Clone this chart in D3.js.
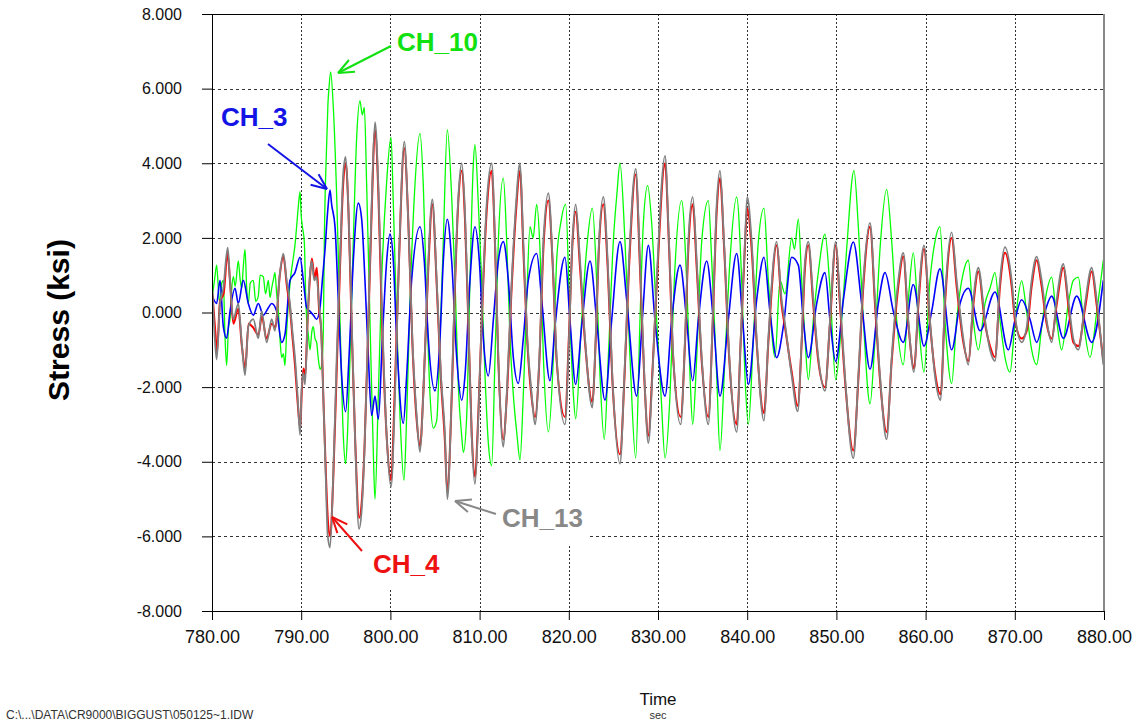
<!DOCTYPE html>
<html>
<head>
<meta charset="utf-8">
<script src="https://cdn.jsdelivr.net/npm/d3@7"></script>
<style>
  html, body { margin: 0; padding: 0; background: #ffffff; }
  svg { display: block; font-family: Arial, "Liberation Sans", sans-serif; }
</style>
</head>
<body>
<svg id="chart" width="1136" height="724"></svg>
<script>
// ---------------- data (time in sec, stress in ksi) ----------------
const timeTicks = [780, 790, 800, 810, 820, 830, 840, 850, 860, 870, 880];
const stressTicks = [-8, -6, -4, -2, 0, 2, 4, 6, 8];
const channelNames = ["CH_10", "CH_3", "CH_4", "CH_13"];

const ch10 = [
[780.04,0.44],[780.30,0.9],[780.52,1.27],[780.75,0.5],[780.90,0.24],[781.1,0.8],[781.27,0.86],[781.45,-0.6],[781.64,-1.42],[781.85,-0.4],
[782.02,-0.18],[782.2,0.6],[782.39,0.96],[782.6,0.7],[782.95,1.38],[783.15,0.9],[783.33,0.65],[783.50,1.2],[783.70,1.69],[783.9,0.6],
[784.07,0.24],[784.3,0.8],[784.63,0.86],[784.9,0.3],[785.19,0.44],[785.4,1.0],[785.75,0.96],[786.0,0.5],[786.32,0.86],[786.5,0.4],
[786.69,0.65],[786.9,0.9],[787.06,1.07],[787.25,0.5],[787.44,0.03],[787.62,-0.7],[787.81,-1.21],[788.00,-1.1],[788.18,-1.42],[788.37,-0.5],
[788.56,0.24],[788.8,0.9],[789.12,1.48],[789.30,1.8],[789.49,2.31],[789.7,2.9],[789.87,3.24],[790.0,2.6],[790.13,2.31],[790.35,1.89],
[790.5,0.5],[790.61,-0.18],[790.8,-0.6],[790.99,-1.0],[791.2,-0.5],[791.36,-0.38],[791.55,-0.7],[791.73,-0.8],[791.9,-1.2],[792.11,-1.52],
[792.30,-1.42],[792.48,-0.5],[792.59,1.89],[792.85,4.48],[793.0,5.6],[793.12,6.03],[793.30,6.45],[793.60,5.5],[793.98,3.1],[794.35,-0.2],
[794.72,-3.3],[794.98,-4.05],[795.2,-3.2],[795.47,-1.2],[795.84,1.9],[796.22,4.7],[796.59,5.67],[796.85,5.3],[797.08,5.5],[797.34,3.4],
[797.71,-0.2],[798.09,-3.8],[798.27,-5.0],[798.65,-2.2],[799.02,0.86],[799.58,3.5],[800.07,4.7],[800.33,2.9],[800.70,-0.2],[801.08,-2.8],
[801.52,-4.5],[801.82,-2.8],[802.20,0.3],[802.68,3.1],[803.32,4.8],[803.69,3.4],[804.07,0.3],[804.44,-2.2],[804.81,-3.1],[805.19,-2.9],
[805.56,-0.7],[805.93,1.9],[806.38,4.9],[806.87,3.1],[807.24,0.9],[807.62,-2.0],[807.99,-3.3],[808.18,-3.75],[808.55,-2.8],[808.92,0.86],
[809.3,4.0],[809.48,4.5],[809.86,2.9],[810.23,0.86],[810.61,-1.7],[810.98,-3.5],[811.35,-4.1],[811.73,-1.2],[812.10,1.9],[812.66,3.6],
[813.04,1.9],[813.41,-0.7],[813.78,-2.2],[814.2,-3.3],[814.53,-3.95],[814.90,-2.2],[815.28,0.3],[815.65,2.3],[816.0,2.0],[816.40,2.9],
[816.77,1.7],[817.15,-1.2],[817.71,-3.2],[818.27,-1.2],[818.64,1.4],[819.1,2.4],[819.65,2.9],[820.13,-0.2],[820.51,-2.2],[820.77,-2.85],
[821.44,-0.2],[822.0,1.7],[822.64,2.8],[823.12,0.86],[823.50,-1.7],[823.98,-3.4],[824.43,-1.2],[824.99,1.9],[825.4,3.2],[825.74,4.0],
[826.30,1.9],[826.86,-1.2],[827.50,-3.9],[827.98,-0.2],[828.36,2.4],[828.84,3.4],[829.29,2.4],[829.85,-0.2],[830.34,-2.2],[830.79,-3.9],
[831.35,-2.2],[831.83,0.86],[832.65,3.0],[833.21,0.86],[833.59,-1.7],[833.89,-3.0],[834.34,-1.2],[834.9,1.9],[835.64,3.0],[836.02,1.4],
[836.58,-1.7],[836.95,-3.7],[837.51,-1.2],[838.07,1.4],[838.82,3.1],[839.38,0.86],[839.75,-1.7],[840.13,-3.0],[840.69,-0.7],[841.25,1.9],
[841.88,2.8],[842.37,0.86],[843.12,-1.2],[843.68,0.86],[844.24,0.5],[844.99,2.0],[845.3,1.7],[845.73,2.5],[846.11,0.86],[846.48,-0.7],
[846.85,-1.8],[847.41,-0.2],[847.97,1.07],[848.72,2.1],[849.28,0.65],[849.92,-1.8],[850.59,-0.2],[851.15,1.7],[851.97,3.8],[852.46,2.3],
[853.02,-0.2],[853.77,-2.45],[854.33,-0.7],[854.89,1.7],[855.63,3.3],[856.2,1.9],[856.76,-0.2],[857.5,-1.4],[858.06,0.34],[858.62,1.6],
[859.19,-0.2],[859.82,-1.6],[860.49,0.86],[861.05,1.9],[861.61,2.3],[862.17,-0.2],[862.92,-1.9],[863.48,-0.2],[864.23,1.07],[864.79,1.4],
[865.35,-0.2],[865.91,-1.0],[866.66,0.24],[867.22,0.65],[867.78,1.07],[868.34,-0.2],[868.9,-1.2],[869.46,-1.6],[870.02,-0.3],[870.77,0.85],
[871.33,0.0],[871.89,-1.0],[872.45,-1.4],[873.01,-0.4],[873.57,0.55],[874.13,0.95],[874.69,-0.2],[875.25,-1.0],[876.0,0.24],[876.56,0.86],
[877.12,0.95],[877.68,-0.2],[878.43,-1.2],[879.18,0.0],[879.92,1.4]
];

const ch3 = [
[780.04,0.44],[780.52,0.24],[780.90,0.86],[781.27,-0.38],[781.64,-0.69],[782.02,0.03],[782.58,0.65],[782.95,0.24],[783.51,0.86],[784.07,0.24],
[784.63,-0.07],[785.19,0.24],[785.75,-0.07],[786.32,0.13],[786.69,0.24],[787.25,0.03],[787.81,-0.80],[788.18,-0.59],[788.74,0.86],[789.30,1.07],
[789.87,1.48],[790.24,0.86],[790.61,0.13],[790.99,0.03],[791.36,-0.07],[791.73,-0.18],[792.11,0.13],[792.37,0.86],[792.67,1.69],[792.97,2.72],
[793.23,3.28],[793.41,2.9],[793.79,2.3],[794.16,0.34],[794.54,-1.7],[794.98,-2.66],[795.36,-1.2],[795.84,1.38],[796.40,2.93],[796.78,2.5],
[797.15,0.86],[797.53,-1.2],[797.9,-2.76],[798.27,-2.24],[798.65,-2.86],[799.1,-0.7],[799.58,1.38],[799.95,2.1],[800.33,1.38],[800.70,-0.7],
[801.45,-2.97],[801.82,-1.7],[802.38,0.86],[803.32,2.3],[803.8,1.38],[804.25,-0.7],[805.0,-2.1],[805.56,-0.7],[805.93,1.38],[806.38,2.5],
[806.87,1.38],[807.43,-1.2],[807.99,-2.35],[808.36,-1.7],[808.92,0.86],[809.48,2.3],[809.97,1.38],[810.42,-0.7],[810.98,-1.7],[811.54,-0.2],
[812.10,1.38],[812.66,1.9],[813.22,0.86],[813.78,-1.2],[814.34,-1.9],[814.9,-0.7],[815.46,0.86],[816.40,1.58],[816.96,0.34],[817.89,-1.83],
[818.45,-0.38],[819.57,1.48],[820.13,-0.2],[820.77,-1.93],[821.44,-0.38],[822.38,1.38],[823.12,-0.2],[824.06,-2.35],[824.81,-0.2],[825.74,1.9],
[826.49,0.34],[827.61,-2.24],[828.24,-0.2],[828.92,1.8],[829.66,-0.2],[830.79,-2.24],[831.53,-0.2],[832.47,1.27],[833.21,-0.2],[833.89,-1.83],
[834.52,-0.2],[835.46,1.38],[836.2,-0.2],[836.95,-2.24],[837.88,-0.2],[838.82,1.58],[839.49,-0.2],[840.13,-1.93],[841.06,0.34],[841.88,1.48],
[842.55,0.03],[843.3,-1.21],[844.05,-0.38],[844.99,1.48],[845.73,1.27],[846.29,-0.2],[846.85,-1.21],[847.79,0.24],[848.72,1.07],[849.28,-0.2],
[849.92,-1.31],[850.78,0.34],[851.90,1.89],[852.83,0.24],[853.77,-1.52],[854.7,0.24],[855.45,1.07],[856.38,0.03],[857.5,-0.8],[858.62,0.75],
[859.82,-0.9],[860.68,0.03],[861.61,1.17],[862.92,-1.0],[863.86,0.24],[864.79,0.65],[866.1,-0.49],[867.78,0.55],[869.27,-1.0],[870.02,-0.2],
[870.77,0.34],[871.7,-0.18],[872.45,-0.8],[873.39,0.03],[874.13,0.44],[875.44,-0.69],[876.94,0.44],[878.62,-0.8],[879.92,0.86]
];

const ch4 = [
[780.04,0.5],[780.4,-0.6],[780.55,-1.1],[780.9,0.3],[781.3,0.5],[781.75,1.6],[782.0,0.9],[782.4,-0.3],[782.95,0.1],[783.35,-0.9],
[783.72,-1.5],[784.1,-0.3],[784.6,-0.4],[785.2,-0.6],[785.6,-0.1],[786.1,-0.7],[786.7,-0.3],[787.1,-0.4],[787.6,1.0],[788.0,1.5],
[788.4,0.7],[788.75,0.1],[789.0,-0.6],[789.3,-1.4],[789.6,-2.4],[789.9,-3.1],[790.05,-2.2],[790.25,-1.5],[790.45,-1.7],[790.7,-0.3],
[791.0,1.0],[791.2,1.45],[791.5,0.9],[791.75,1.2],[792.0,0.1],[792.25,-0.5],[792.5,-2.4],[792.75,-4.2],[793.0,-5.6],[793.25,-6.0],
[793.6,-4.4],[794.0,-1.4],[794.35,1.2],[794.72,3.5],[795.0,4.0],[795.3,2.7],[795.66,-0.4],[796.05,-3.4],[796.5,-5.5],[796.78,-5.1],
[797.1,-3.6],[797.55,-0.1],[797.9,2.7],[798.27,4.9],[798.65,3.2],[799.0,0.2],[799.6,-3.4],[800.07,-4.5],[800.5,-2.0],[800.95,1.3],
[801.56,4.4],[802.0,2.5],[802.46,-0.8],[802.95,-2.9],[803.32,-3.6],[803.7,-2.1],[804.25,1.2],[804.7,2.9],[805.2,0.7],[805.67,-1.8],
[806.1,-3.4],[806.38,-4.8],[806.87,-2.3],[807.24,0.7],[807.62,3.0],[807.99,3.8],[808.36,2.5],[808.74,-0.3],[809.11,-3.2],[809.48,-4.4],
[809.86,-2.7],[810.23,-0.3],[810.79,2.7],[811.35,3.8],[811.73,1.8],[812.1,-1.3],[812.66,-3.4],[813.04,-2.3],[813.6,0.7],[814.08,2.7],
[814.53,3.8],[814.9,1.7],[815.35,-0.8],[815.84,-2.3],[816.21,-2.8],[816.7,-1.3],[817.15,1.7],[817.71,3.0],[818.19,1.3],[818.64,-1.3],
[819.57,-2.8],[820.02,-0.6],[820.4,1.8],[820.77,2.7],[821.26,1.2],[821.82,-0.8],[822.64,-2.4],[823.01,-0.8],[823.39,1.8],[823.87,2.9],
[824.36,1.2],[824.88,-1.8],[825.74,-3.8],[826.23,-1.8],[826.75,1.2],[827.5,3.7],[827.98,1.2],[828.47,-1.8],[828.92,-3.3],[829.37,-1.6],
[829.85,0.7],[830.79,4.0],[831.23,1.8],[831.72,-1.3],[832.54,-2.8],[833.03,-0.8],[833.4,1.7],[833.89,2.9],[834.34,1.2],[834.9,-1.3],
[835.64,-2.8],[836.13,-0.3],[836.58,2.7],[836.95,3.6],[837.4,1.8],[838.0,-1.3],[838.82,-3.0],[839.27,-0.8],[839.75,1.8],[840.0,2.8],
[840.5,1.7],[841.06,-0.8],[841.88,-2.7],[842.37,-0.8],[843.3,1.8],[843.86,0.2],[844.24,-0.4],[844.99,-1.6],[845.66,-2.5],[846.11,-0.8],
[846.48,1.2],[846.85,1.8],[847.41,0.2],[847.97,-1.3],[848.72,-2.0],[849.28,-0.3],[849.92,1.8],[850.4,0.2],[850.96,-1.8],[851.9,-3.7],
[852.46,-1.8],[853.02,0.7],[853.77,2.3],[854.33,0.2],[854.89,-1.8],[855.63,-3.2],[856.2,-1.3],[856.94,0.7],[857.5,1.5],[858.06,-0.3],
[858.7,-1.5],[859.19,0.2],[859.82,1.7],[860.49,-0.3],[861.05,-1.6],[861.69,-2.2],[862.17,0.2],[862.92,2.0],[863.48,0.7],[864.23,-0.8],
[864.79,-1.3],[865.35,0.2],[865.91,1.1],[866.66,-0.3],[867.22,-0.9],[867.78,-1.2],[868.34,0.7],[868.9,1.6],[869.65,0.7],[870.02,-0.2],
[870.77,-0.7],[871.33,-0.5],[871.89,0.7],[872.45,1.4],[873.01,0.7],[873.57,-0.3],[874.13,-0.7],[874.69,0.2],[875.44,1.2],[876.0,0.2],
[876.56,-0.8],[877.12,-0.9],[877.87,0.1],[878.62,1.1],[879.18,0.2],[879.92,-1.3]
];

const ch13 = [
[780.04,0.65],[780.34,-0.8],[780.52,-1.26],[780.90,0.24],[781.27,0.65],[781.76,1.74],[782.02,0.86],[782.39,-0.18],[782.95,0.24],[783.33,-0.8],
[783.70,-1.68],[784.07,-0.38],[784.63,-0.18],[785.19,-0.69],[785.57,0.03],[786.13,-0.8],[786.69,-0.18],[787.06,-0.49],[787.62,1.07],[788.00,1.58],
[788.37,0.86],[788.74,0.24],[789.01,-0.49],[789.30,-1.21],[789.60,-2.24],[789.87,-3.28],[790.05,-2.04],[790.24,-1.62],[790.43,-1.93],[790.72,-0.18],
[790.99,1.07],[791.17,1.38],[791.47,0.86],[791.73,0.96],[791.99,0.24],[792.22,-0.38],[792.48,-2.24],[792.74,-4.31],[792.97,-5.97],[793.23,-6.3],
[793.6,-4.3],[793.98,-1.2],[794.35,1.38],[794.72,3.75],[794.98,4.17],[795.28,2.9],[795.66,-0.2],[796.03,-3.3],[796.48,-5.8],[796.78,-5.3],
[797.08,-3.8],[797.53,-0.2],[797.9,2.9],[798.27,5.1],[798.65,3.4],[799.02,0.34],[799.58,-3.3],[800.07,-4.67],[800.52,-2.2],[800.96,1.38],
[801.56,4.58],[802.01,2.4],[802.46,-0.7],[802.94,-2.76],[803.32,-3.74],[803.69,-2.2],[804.25,1.38],[804.70,3.03],[805.19,0.86],[805.67,-1.7],
[806.12,-3.3],[806.38,-5.0],[806.87,-2.2],[807.24,0.86],[807.62,3.1],[807.99,4.0],[808.36,2.7],[808.74,-0.2],[809.11,-3.3],[809.48,-4.6],
[809.86,-2.8],[810.23,-0.2],[810.79,2.9],[811.35,4.0],[811.73,1.9],[812.10,-1.2],[812.66,-3.6],[813.04,-2.2],[813.6,0.86],[814.08,2.9],
[814.53,4.0],[814.9,1.9],[815.35,-0.7],[815.84,-2.2],[816.21,-3.0],[816.7,-1.2],[817.15,1.9],[817.71,3.2],[818.19,1.38],[818.64,-1.2],
[819.57,-3.0],[820.02,-0.7],[820.40,1.9],[820.77,2.9],[821.26,1.38],[821.82,-0.7],[822.64,-2.55],[823.01,-0.7],[823.39,1.9],[823.87,3.1],
[824.36,1.38],[824.88,-1.7],[825.74,-4.05],[826.23,-1.7],[826.75,1.38],[827.50,3.85],[827.98,1.38],[828.47,-1.7],[828.92,-3.5],[829.37,-1.7],
[829.85,0.86],[830.79,4.2],[831.23,1.9],[831.72,-1.2],[832.54,-3.0],[833.03,-0.7],[833.4,1.9],[833.89,3.1],[834.34,1.38],[834.9,-1.2],
[835.64,-3.0],[836.13,-0.2],[836.58,2.9],[836.95,3.8],[837.4,1.9],[838.0,-1.2],[838.82,-3.2],[839.27,-0.7],[839.75,1.9],[840.0,3.1],
[840.5,1.9],[841.06,-0.7],[841.88,-2.9],[842.37,-0.7],[843.3,1.9],[843.86,0.34],[844.24,-0.3],[844.99,-1.7],[845.66,-2.65],[846.11,-0.7],
[846.48,1.38],[846.85,1.9],[847.41,0.34],[847.97,-1.2],[848.72,-2.1],[849.28,-0.2],[849.92,1.9],[850.4,0.34],[850.96,-1.7],[851.90,-3.9],
[852.46,-1.7],[853.02,0.86],[853.77,2.4],[854.33,0.34],[854.89,-1.7],[855.63,-3.4],[856.2,-1.2],[856.94,0.86],[857.5,1.6],[858.06,-0.2],
[858.70,-1.6],[859.19,0.34],[859.82,1.8],[860.49,-0.2],[861.05,-1.7],[861.69,-2.35],[862.17,0.34],[862.92,2.15],[863.48,0.86],[864.23,-0.7],
[864.79,-1.4],[865.35,0.34],[865.91,1.2],[866.66,-0.2],[867.22,-1.0],[867.78,-1.3],[868.34,0.86],[868.90,1.75],[869.65,0.86],[870.02,-0.07],
[870.77,-0.8],[871.33,-0.4],[871.89,0.86],[872.45,1.5],[873.01,0.86],[873.57,-0.2],[874.13,-0.8],[874.69,0.34],[875.44,1.3],[876.0,0.34],
[876.56,-0.7],[877.12,-1.0],[877.87,0.24],[878.62,1.2],[879.18,0.34],[879.92,-1.4]
];

// ---------------- layout ----------------
const W = 1136, H = 724;
const plot = { left: 212, right: 1104, top: 14, bottom: 611 };

const svg = d3.select("#chart");
svg.append("rect").attr("width", W).attr("height", H).attr("fill", "#ffffff");

const x = d3.scaleLinear().domain([780, 880]).range([plot.left, plot.right]);
const y = d3.scaleLinear().domain([-8, 8]).range([plot.bottom, plot.top]);

// grid
const grid = svg.append("g");
grid.selectAll("line.h").data(stressTicks.filter(d => d > -8 && d < 8)).join("line")
  .attr("x1", plot.left).attr("x2", plot.right)
  .attr("y1", d => Math.round(y(d)) + 0.5).attr("y2", d => Math.round(y(d)) + 0.5)
  .attr("stroke", "#333").attr("stroke-width", 1).attr("stroke-dasharray", "3,3");
grid.selectAll("line.v").data(timeTicks.filter(d => d > 780 && d < 880)).join("line")
  .attr("x1", d => Math.round(x(d)) + 0.5).attr("x2", d => Math.round(x(d)) + 0.5)
  .attr("y1", plot.top).attr("y2", plot.bottom)
  .attr("stroke", "#333").attr("stroke-width", 1).attr("stroke-dasharray", "2,2");

// clip
svg.append("defs").append("clipPath").attr("id", "clip").append("rect")
  .attr("x", plot.left).attr("y", plot.top)
  .attr("width", plot.right - plot.left).attr("height", plot.bottom - plot.top);

const line = d3.line().curve(d3.curveMonotoneX).x(d => x(d[0])).y(d => y(d[1]));
const series = [
  { data: ch10, color: "#00ff00", width: 1.3 },
  { data: ch3,  color: "#0000ff", width: 1.6 },
  { data: ch4,  color: "#ff0000", width: 2.0 },
  { data: ch13, color: "#808080", width: 1.8 }
];
const lines = svg.append("g").attr("clip-path", "url(#clip)");
lines.selectAll("path").data(series).join("path")
  .attr("d", d => line(d.data))
  .attr("fill", "none")
  .attr("stroke", d => d.color)
  .attr("stroke-width", d => d.width)
  .attr("stroke-linejoin", "round");

// axes
const yAxis = d3.axisLeft(y).tickValues(stressTicks).tickSize(10).tickPadding(20)
  .tickFormat(d => d.toFixed(3));
const gy = svg.append("g").attr("transform", `translate(${plot.left},0)`).call(yAxis);
gy.select(".domain").remove();
gy.selectAll(".tick line").attr("stroke", "#000");
gy.selectAll(".tick text").attr("font-size", 16).attr("fill", "#111")
  .attr("font-family", "Arial, 'Liberation Sans', sans-serif");

const xAxis = d3.axisBottom(x).tickValues(timeTicks).tickSize(9).tickPadding(10)
  .tickFormat(d => d.toFixed(2));
const gx = svg.append("g").attr("transform", `translate(0,${plot.bottom})`).call(xAxis);
gx.select(".domain").remove();
gx.selectAll(".tick line").attr("stroke", "#000");
gx.selectAll(".tick text").attr("font-size", 18).attr("fill", "#111")
  .attr("font-family", "Arial, 'Liberation Sans', sans-serif");

// frame
svg.append("line").attr("x1", plot.left + 0.5).attr("x2", plot.left + 0.5)
  .attr("y1", plot.top).attr("y2", plot.bottom).attr("stroke", "#000");
svg.append("line").attr("x1", plot.left).attr("x2", plot.right)
  .attr("y1", plot.top + 0.5).attr("y2", plot.top + 0.5).attr("stroke", "#000");
svg.append("line").attr("x1", plot.left).attr("x2", plot.right)
  .attr("y1", plot.bottom + 0.5).attr("y2", plot.bottom + 0.5).attr("stroke", "#000");
svg.append("line").attr("x1", plot.right).attr("x2", plot.right)
  .attr("y1", plot.top).attr("y2", plot.bottom).attr("stroke", "#888").attr("stroke-width", 2);

// axis titles
svg.append("text").attr("transform", "translate(69,320) rotate(-90)")
  .attr("text-anchor", "middle").attr("font-size", 30).attr("font-weight", "bold")
  .attr("fill", "#000").text("Stress (ksi)");
svg.append("text").attr("x", 658).attr("y", 705).attr("text-anchor", "middle")
  .attr("font-size", 17).attr("fill", "#111").text("Time");
svg.append("text").attr("x", 658).attr("y", 719).attr("text-anchor", "middle")
  .attr("font-size", 11).attr("fill", "#333").text("sec");
svg.append("text").attr("x", 6).attr("y", 719)
  .attr("font-size", 12).attr("fill", "#333").text("C:\\...\\DATA\\CR9000\\BIGGUST\\050125~1.IDW");

// annotations
const notes = [
  { name: channelNames[0], color: "#11e011", tx: 397, ty: 51, from: [391, 46], to: [338, 73], box: null },
  { name: channelNames[1], color: "#1414e6", tx: 221, ty: 126, from: [268, 144], to: [327, 189], box: null },
  { name: channelNames[2], color: "#ee1111", tx: 373, ty: 573, from: [362, 551], to: [332, 517], box: [366, 539, 80, 50] },
  { name: channelNames[3], color: "#888888", tx: 502, ty: 527, from: [496, 514], to: [455, 501], box: [484, 500, 104, 45] }
];
const ann = svg.append("g");
notes.forEach(n => {
  if (n.box) {
    ann.append("rect").attr("x", n.box[0]).attr("y", n.box[1])
      .attr("width", n.box[2]).attr("height", n.box[3]).attr("fill", "#fff");
  }
});
notes.forEach(n => {
  ann.append("text").attr("x", n.tx).attr("y", n.ty).attr("font-size", 26)
    .attr("font-weight", "bold").attr("fill", n.color).text(n.name);
  ann.append("line").attr("x1", n.from[0]).attr("y1", n.from[1])
    .attr("x2", n.to[0]).attr("y2", n.to[1])
    .attr("stroke", n.color).attr("stroke-width", 2);
  const ang = Math.atan2(n.from[1] - n.to[1], n.from[0] - n.to[0]);
  const L = 17, spread = 0.4;
  [ang - spread, ang + spread].forEach(a => {
    ann.append("line").attr("x1", n.to[0]).attr("y1", n.to[1])
      .attr("x2", n.to[0] + L * Math.cos(a)).attr("y2", n.to[1] + L * Math.sin(a))
      .attr("stroke", n.color).attr("stroke-width", 2);
  });
});
</script>
</body>
</html>
